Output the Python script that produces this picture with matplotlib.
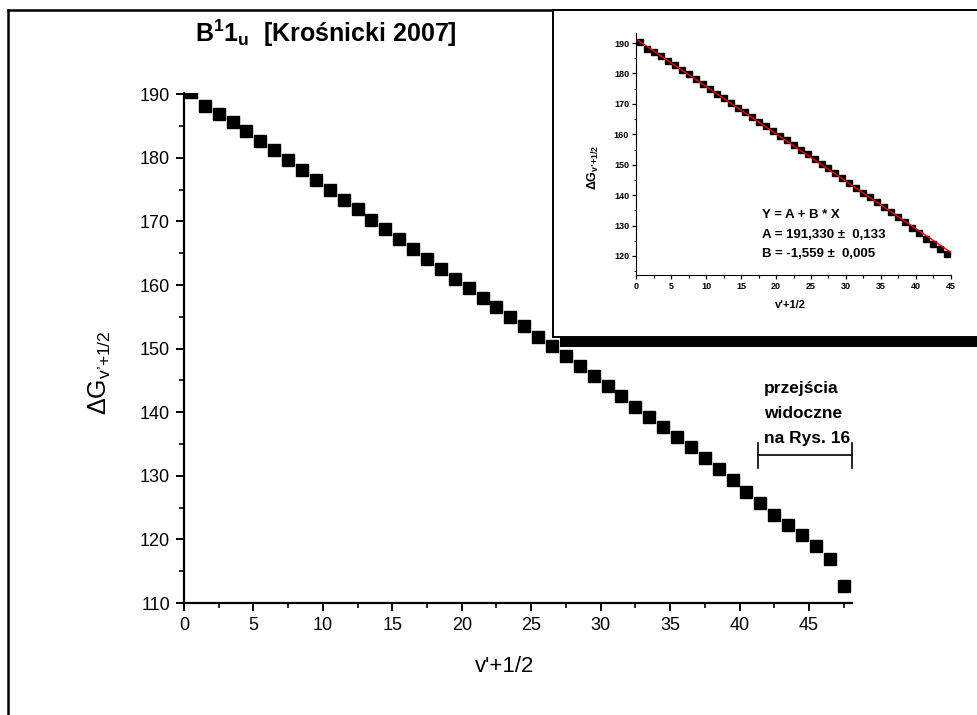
import numpy as np
import matplotlib
matplotlib.use("Agg")
import matplotlib.pyplot as plt
from matplotlib.patches import Rectangle
from matplotlib.lines import Line2D
from matplotlib.ticker import MultipleLocator

# v'+1/2 and Delta G values
v_half = [0.5, 1.5, 2.5, 3.5, 4.5, 5.5, 6.5, 7.5, 8.5, 9.5, 10.5, 11.5,
          12.5, 13.5, 14.5, 15.5, 16.5, 17.5, 18.5, 19.5, 20.5, 21.5, 22.5, 23.5,
          24.5, 25.5, 26.5, 27.5, 28.5, 29.5, 30.5, 31.5, 32.5, 33.5, 34.5, 35.5,
          36.5, 37.5, 38.5, 39.5, 40.5, 41.5, 42.5, 43.5, 44.5, 45.5, 46.5, 47.5]
delta_g = [190.3, 188.2, 186.9, 185.6, 184.2, 182.7, 181.2, 179.7, 178.1, 176.5, 175.0, 173.4,
           171.9, 170.3, 168.8, 167.2, 165.7, 164.1, 162.6, 161.0, 159.5, 158.0, 156.5, 154.9,
           153.5, 151.9, 150.4, 148.8, 147.3, 145.7, 144.1, 142.5, 140.8, 139.3, 137.7, 136.1,
           134.5, 132.8, 131.1, 129.3, 127.5, 125.7, 123.9, 122.2, 120.7, 119.0, 116.9, 112.7]

# linear fit shown in the inset (points up to v'+1/2 = 44.5)
fit_a = 191.330
fit_b = -1.559
n_inset = 45

plt.rcParams['font.family'] = ['Liberation Sans', 'DejaVu Sans']
plt.rcParams['mathtext.fontset'] = 'custom'
plt.rcParams['mathtext.rm'] = 'Liberation Sans'
plt.rcParams['mathtext.it'] = 'Liberation Sans'
plt.rcParams['mathtext.bf'] = 'Liberation Sans:bold'

W, H = 978, 715
fig = plt.figure(figsize=(W / 100, H / 100), dpi=100)


def fx(px):
    return px / W


def fy(py):
    return 1 - py / H


# ---- main plot
ax = fig.add_axes([fx(184), fy(603), fx(852) - fx(184), fy(93) - fy(603)])
ax.plot(v_half, delta_g, ls='none', marker='s', ms=8, color='black')
ax.set_xlim(0, 48.1)
ax.set_ylim(110, 190.2)
for s in ['top', 'right']:
    ax.spines[s].set_visible(False)
for s in ['left', 'bottom']:
    ax.spines[s].set_linewidth(1.6)
ax.xaxis.set_major_locator(MultipleLocator(5))
ax.xaxis.set_minor_locator(MultipleLocator(2.5))
ax.yaxis.set_major_locator(MultipleLocator(10))
ax.yaxis.set_minor_locator(MultipleLocator(5))
ax.tick_params(which='major', direction='out', length=6, width=1.4, labelsize=13, pad=4)
ax.tick_params(which='minor', direction='out', length=3.5, width=1.2)

fig.text(fx(505), fy(666), "v'+1/2", fontsize=16, ha='center', va='center')
fig.text(fx(100), fy(373), r"$\Delta\mathrm{G}_{\mathrm{v’{+}1/2}}$", fontsize=18,
         rotation=90, ha='center', va='center')
fig.text(fx(326), fy(33), r"$\mathbf{B^{1}1_{u}}$  [Krośnicki 2007]", fontsize=18,
         fontweight='bold', ha='center', va='center')

# bracket for the transitions visible in Rys. 16
ax.plot([41.3, 48.1], [133.3, 133.3], color='black', lw=1.2, clip_on=False)
ax.plot([41.3, 41.3], [131.3, 135.2], color='black', lw=1.2, clip_on=False)
ax.plot([48.1, 48.1], [131.3, 135.2], color='black', lw=1.2, clip_on=False)
fig.text(fx(764), fy(389), "przejścia", fontsize=12.5, fontweight='bold', ha='left', va='center')
fig.text(fx(764), fy(414), "widoczne", fontsize=12.5, fontweight='bold', ha='left', va='center')
fig.text(fx(764), fy(439), "na Rys. 16", fontsize=12.5, fontweight='bold', ha='left', va='center')

# ---- page frame and inset box
fig.add_artist(Line2D([fx(8), fx(8)], [fy(10), fy(715)], color='black', lw=1.8))
fig.add_artist(Line2D([fx(8), fx(980)], [fy(10), fy(10)], color='black', lw=1.8))
fig.add_artist(Rectangle((fx(553), fy(337)), fx(990) - fx(553), fy(10) - fy(337),
                         facecolor='white', edgecolor='black', lw=1.4, zorder=5))
fig.add_artist(Rectangle((fx(560), fy(347)), fx(990) - fx(560), fy(338) - fy(347),
                         facecolor='black', edgecolor='none', zorder=5))

# ---- inset with the linear fit
ins = fig.add_axes([fx(636), fy(275), fx(951) - fx(636), fy(33) - fy(275)], zorder=6)
ins.patch.set_alpha(0)
ins.plot(v_half[:n_inset], delta_g[:n_inset], ls='none', marker='s', ms=4.3, color='black')
xf = np.array([0, 45])
ins.plot(xf, fit_a + fit_b * xf, color='red', lw=1.0)
ins.set_xlim(0, 45)
ins.set_ylim(113.75, 193.3)
for s in ['top', 'right']:
    ins.spines[s].set_visible(False)
ins.xaxis.set_major_locator(MultipleLocator(5))
ins.xaxis.set_minor_locator(MultipleLocator(2.5))
ins.yaxis.set_major_locator(MultipleLocator(10))
ins.yaxis.set_minor_locator(MultipleLocator(5))
ins.tick_params(which='major', direction='out', length=3, width=0.9, labelsize=6.5, pad=2)
ins.tick_params(which='minor', direction='out', length=1.8, width=0.8)
for lab in ins.get_xticklabels() + ins.get_yticklabels():
    lab.set_fontweight('bold')
fig.text(fx(790), fy(305), "v'+1/2", fontsize=8, fontweight='bold', ha='center', va='center', zorder=7)
fig.text(fx(593), fy(167), r"$\mathbf{\Delta G_{v’{+}1/2}}$", fontsize=9,
         rotation=90, ha='center', va='center', zorder=7)
fig.text(fx(762), fy(215), "Y = A + B * X", fontsize=9.5, fontweight='bold', ha='left', va='center', zorder=7)
fig.text(fx(762), fy(235), "A = 191,330 ±  0,133", fontsize=9.5, fontweight='bold', ha='left', va='center', zorder=7)
fig.text(fx(762), fy(254), "B = -1,559 ±  0,005", fontsize=9.5, fontweight='bold', ha='left', va='center', zorder=7)

fig.savefig('out.png', dpi=100)
